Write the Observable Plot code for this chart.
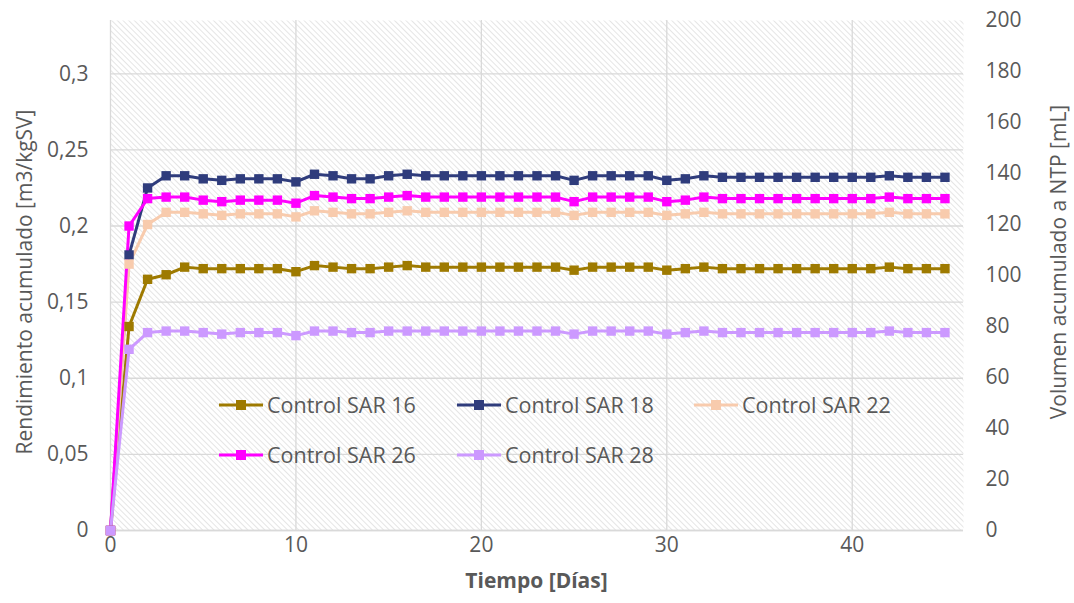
<!DOCTYPE html>
<html>
<head>
<meta charset="utf-8">
<script src="https://cdn.jsdelivr.net/npm/d3@7"></script>
<script src="https://cdn.jsdelivr.net/npm/@observablehq/plot@0.6"></script>
<style>
  html, body { margin: 0; padding: 0; background: #fff; }
  #wrap { position: relative; width: 1074px; height: 603px; font-family: "Open Sans", sans-serif; }
  #legend { position: absolute; left: 0; top: 0; width: 1074px; height: 603px; pointer-events: none; }
  .lg { position: absolute; display: flex; align-items: center; font-size: 21.5px; color: #595959; white-space: nowrap; }
  .lg svg { margin-right: 3px; }
</style>
</head>
<body>
<div id="wrap"></div>
<script>
// ---- data ----
const days = d3.range(0, 46);
const seriesNames = ["Control SAR 16", "Control SAR 18", "Control SAR 22", "Control SAR 26", "Control SAR 28"];
const seriesColors = ["#9E7A00", "#2F3C7C", "#F8CBAD", "#FF00FF", "#CC99FF"];

const sar16 = [0, 0.134, 0.165, 0.168, 0.173, 0.172, 0.172, 0.172, 0.172, 0.172, 0.170, 0.174, 0.173, 0.172, 0.172,
  0.173, 0.174, 0.173, 0.173, 0.173, 0.173, 0.173, 0.173, 0.173, 0.173, 0.171, 0.173, 0.173, 0.173, 0.173,
  0.171, 0.172, 0.173, 0.172, 0.172, 0.172, 0.172, 0.172, 0.172, 0.172, 0.172, 0.172, 0.173, 0.172, 0.172, 0.172];
const sar18 = [0, 0.181, 0.225, 0.233, 0.233, 0.231, 0.230, 0.231, 0.231, 0.231, 0.229, 0.234, 0.233, 0.231, 0.231,
  0.233, 0.234, 0.233, 0.233, 0.233, 0.233, 0.233, 0.233, 0.233, 0.233, 0.230, 0.233, 0.233, 0.233, 0.233,
  0.230, 0.231, 0.233, 0.232, 0.232, 0.232, 0.232, 0.232, 0.232, 0.232, 0.232, 0.232, 0.233, 0.232, 0.232, 0.232];
const sar22 = [0, 0.175, 0.201, 0.209, 0.209, 0.208, 0.207, 0.208, 0.208, 0.208, 0.206, 0.210, 0.209, 0.208, 0.208,
  0.209, 0.210, 0.209, 0.209, 0.209, 0.209, 0.209, 0.209, 0.209, 0.209, 0.207, 0.209, 0.209, 0.209, 0.209,
  0.207, 0.208, 0.209, 0.208, 0.208, 0.208, 0.208, 0.208, 0.208, 0.208, 0.208, 0.208, 0.209, 0.208, 0.208, 0.208];
const sar26 = [0, 0.200, 0.218, 0.219, 0.219, 0.217, 0.216, 0.217, 0.217, 0.217, 0.215, 0.220, 0.219, 0.218, 0.218,
  0.219, 0.220, 0.219, 0.219, 0.219, 0.219, 0.219, 0.219, 0.219, 0.219, 0.216, 0.219, 0.219, 0.219, 0.219,
  0.216, 0.217, 0.219, 0.218, 0.218, 0.218, 0.218, 0.218, 0.218, 0.218, 0.218, 0.218, 0.219, 0.218, 0.218, 0.218];
const sar28 = [0, 0.119, 0.130, 0.131, 0.131, 0.130, 0.129, 0.130, 0.130, 0.130, 0.128, 0.131, 0.131, 0.130, 0.130,
  0.131, 0.131, 0.131, 0.131, 0.131, 0.131, 0.131, 0.131, 0.131, 0.131, 0.129, 0.131, 0.131, 0.131, 0.131,
  0.129, 0.130, 0.131, 0.130, 0.130, 0.130, 0.130, 0.130, 0.130, 0.130, 0.130, 0.130, 0.131, 0.130, 0.130, 0.130];

const leftTicks = [0, 0.05, 0.1, 0.15, 0.2, 0.25, 0.3];
const rightTicks = [0, 20, 40, 60, 80, 100, 120, 140, 160, 180, 200];
const xTicks = [0, 10, 20, 30, 40];
const leftMax = 0.335;
const rightMax = 200;
const xMax = 46;

// ---- build table ----
const allSeries = [sar16, sar18, sar22, sar26, sar28];
const rows = [];
allSeries.forEach((vals, i) => vals.forEach((v, j) => rows.push({series: seriesNames[i], day: days[j], value: v})));

const fmtComma = d => String(d).replace(".", ",");
const textColor = "#595959";
const font = "Open Sans, sans-serif";

const chart = Plot.plot({
  width: 1074,
  height: 603,
  marginLeft: 110,
  marginRight: 111,
  marginTop: 20,
  marginBottom: 73,
  style: {fontFamily: font, fontSize: "21px", color: textColor, background: "white"},
  x: {domain: [0, xMax], label: null},
  y: {domain: [0, leftMax], label: null},
  color: {domain: seriesNames, range: seriesColors},
  marks: [
    Plot.frame({fill: "url(#hatch)", stroke: "none"}),
    Plot.gridY(leftTicks, {stroke: "#d9d9d9", strokeOpacity: 1, strokeWidth: 1.3}),
    Plot.gridX(xTicks, {stroke: "#d9d9d9", strokeOpacity: 1, strokeWidth: 1.3}),
    Plot.ruleY([0], {stroke: "#d9d9d9", strokeWidth: 1.5}),
    Plot.axisY(leftTicks, {anchor: "left", tickSize: 0, tickPadding: 22, tickFormat: fmtComma, fontSize: 21, fill: textColor, label: null}),
    Plot.axisY(rightTicks.map(t => t * leftMax / rightMax), {anchor: "right", tickSize: 0, tickPadding: 22,
      tickFormat: d => String(Math.round(d * rightMax / leftMax)), fontSize: 21, fill: textColor, label: null}),
    Plot.axisX(xTicks, {anchor: "bottom", tickSize: 0, tickPadding: 7, fontSize: 21, fill: textColor, label: null}),
    Plot.line(rows, {x: "day", y: "value", z: "series", stroke: "series", strokeWidth: 3}),
    Plot.dot(rows, {x: "day", y: "value", fill: "series", symbol: "square", r: 5.3, stroke: "none"})
  ]
});

// hatch pattern
const ns = "http://www.w3.org/2000/svg";
const defs = document.createElementNS(ns, "defs");
defs.innerHTML = `<pattern id="hatch" patternUnits="userSpaceOnUse" width="4" height="4" patternTransform="rotate(-45)">
  <rect width="4" height="4" fill="#ffffff"/>
  <line x1="0" y1="0" x2="0" y2="4" stroke="#dadada" stroke-width="1.4"/>
</pattern>`;
chart.insertBefore(defs, chart.firstChild);

// axis titles
function addText(str, x, y, rotate, bold) {
  const t = document.createElementNS(ns, "text");
  t.setAttribute("transform", `translate(${x},${y})` + (rotate ? ` rotate(${rotate})` : ""));
  t.setAttribute("text-anchor", "middle");
  t.setAttribute("dominant-baseline", "central");
  if (bold) t.setAttribute("font-weight", "bold");
  t.setAttribute("font-size", "21");
  t.setAttribute("fill", textColor);
  t.textContent = str;
  chart.appendChild(t);
}
addText("Tiempo [Días]", (110 + 963) / 2, 580, 0, true);
addText("Rendimiento acumulado [m3/kgSV]", 24, 282, -90, false);
addText("Volumen acumulado a NTP [mL]", 1058, 262, -90, false);

const wrap = document.getElementById("wrap");
wrap.appendChild(chart);

// legend (HTML overlay)
const legend = document.createElement("div");
legend.id = "legend";
const legendPos = [[218, 404], [456, 404], [693, 404], [218, 454], [456, 454]];
seriesNames.forEach((name, i) => {
  const item = document.createElement("div");
  item.className = "lg";
  item.style.left = legendPos[i][0] + "px";
  item.style.top = (legendPos[i][1] - 14) + "px";
  item.innerHTML = `<svg width="46" height="28"><line x1="1" y1="14" x2="45" y2="14" stroke="${seriesColors[i]}" stroke-width="3"/>
    <rect x="18" y="9" width="10" height="10" fill="${seriesColors[i]}"/></svg><span>${name}</span>`;
  legend.appendChild(item);
});
wrap.appendChild(legend);
</script>
</body>
</html>
